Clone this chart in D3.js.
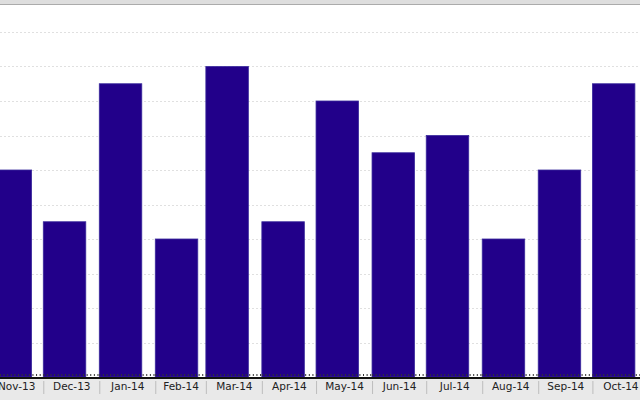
<!DOCTYPE html>
<html>
<head>
<meta charset="utf-8">
<script src="https://cdn.jsdelivr.net/npm/d3@7"></script>
<style>
  body { margin: 0; background: #fff; }
  svg { display: block; }
  .lbl text { font-family: "DejaVu Sans", sans-serif; font-size: 10.5px; fill: #222; }
</style>
</head>
<body>
<script>
// months shown (first day of each month) and bar values
var months = ['2013-11', '2013-12', '2014-01', '2014-02', '2014-03', '2014-04',
              '2014-05', '2014-06', '2014-07', '2014-08', '2014-09', '2014-10'];
var counts = [12, 9, 17, 8, 18, 9, 16, 13, 14, 8, 12, 17];
var yTicks = [0, 2, 4, 6, 8, 10, 12, 14, 16, 18, 20];

var width = 640, height = 400;
var baseY = 377;
var barW = 42.5;

var parse = d3.timeParse('%Y-%m');
var data = months.map(function (m, i) {
	var start = parse(m);
	return { start: start, end: d3.timeMonth.offset(start, 1), value: counts[i] };
});

var svg = d3.select('body').append('svg')
	.attr('width', width)
	.attr('height', height);

// chart is cut by the window, so the range runs a bit past both edges
var x = d3.scaleTime()
	.domain([data[0].start, data[data.length - 1].end])
	.range([-10.9, 648.4]);

var y = d3.scaleLinear()
	.domain([0, 20])
	.range([baseY, 32]);

svg.append('rect')
	.attr('x', 0).attr('y', 0)
	.attr('width', width).attr('height', height)
	.attr('fill', '#fff');

// dashed grid
svg.append('g')
	.selectAll('line')
	.data(yTicks.slice(1))
	.enter()
	.append('line')
	.attr('x1', 0).attr('x2', width)
	.attr('y1', function (d) { return Math.round(y(d)) + 0.5; })
	.attr('y2', function (d) { return Math.round(y(d)) + 0.5; })
	.attr('stroke', '#e0e0e0')
	.attr('stroke-dasharray', '2,2');

// bars
svg.append('g')
	.selectAll('rect')
	.data(data)
	.enter()
	.append('rect')
	.attr('x', function (d) { return x(d.start); })
	.attr('y', function (d) { return y(d.value); })
	.attr('width', barW)
	.attr('height', function (d) { return baseY - y(d.value); })
	.attr('fill', '#22008a')
	.attr('stroke', '#3a2a9c')
	.attr('stroke-width', 0.8);

// top strip
svg.append('rect')
	.attr('x', 0).attr('y', 0)
	.attr('width', width).attr('height', 4)
	.attr('fill', '#dedede');
svg.append('line')
	.attr('x1', 0).attr('x2', width)
	.attr('y1', 4.5).attr('y2', 4.5)
	.attr('stroke', '#ababab');

// label strip under the axis
svg.append('rect')
	.attr('x', 0).attr('y', baseY + 2)
	.attr('width', width).attr('height', height - baseY - 2)
	.attr('fill', '#e9e9e9');

// minor ticks
var minor = svg.append('g')
	.attr('transform', 'translate(0,' + (baseY - 1) + ')')
	.call(d3.axisBottom(x)
		.ticks(d3.timeDay.every(2))
		.tickSize(-2)
		.tickFormat(''));
minor.select('.domain').remove();
minor.selectAll('line').attr('stroke', '#333');

// axis line
svg.append('line')
	.attr('x1', 0).attr('x2', width)
	.attr('y1', baseY + 1).attr('y2', baseY + 1)
	.attr('stroke', '#111')
	.attr('stroke-width', 2);

// month separators
var sep = svg.append('g')
	.attr('transform', 'translate(0,' + (baseY + 4) + ')')
	.call(d3.axisBottom(x)
		.tickValues(data.map(function (d) { return d.start; }).concat([data[data.length - 1].end]))
		.tickSize(13)
		.tickFormat(''));
sep.select('.domain').remove();
sep.selectAll('line').attr('stroke', '#bdbdbd');

// month labels centred in each month
var fmt = d3.timeFormat('%b-%y');
var mids = data.map(function (d) { return new Date((+d.start + +d.end) / 2); });
var lbl = svg.append('g')
	.attr('class', 'lbl')
	.attr('transform', 'translate(0,' + (baseY + 2) + ')')
	.call(d3.axisBottom(x)
		.tickValues(mids)
		.tickSize(0)
		.tickPadding(4)
		.tickFormat(function (d, i) { return fmt(data[i].start); }));
lbl.select('.domain').remove();
lbl.selectAll('text').attr('font-family', null).attr('font-size', null);
</script>
</body>
</html>
